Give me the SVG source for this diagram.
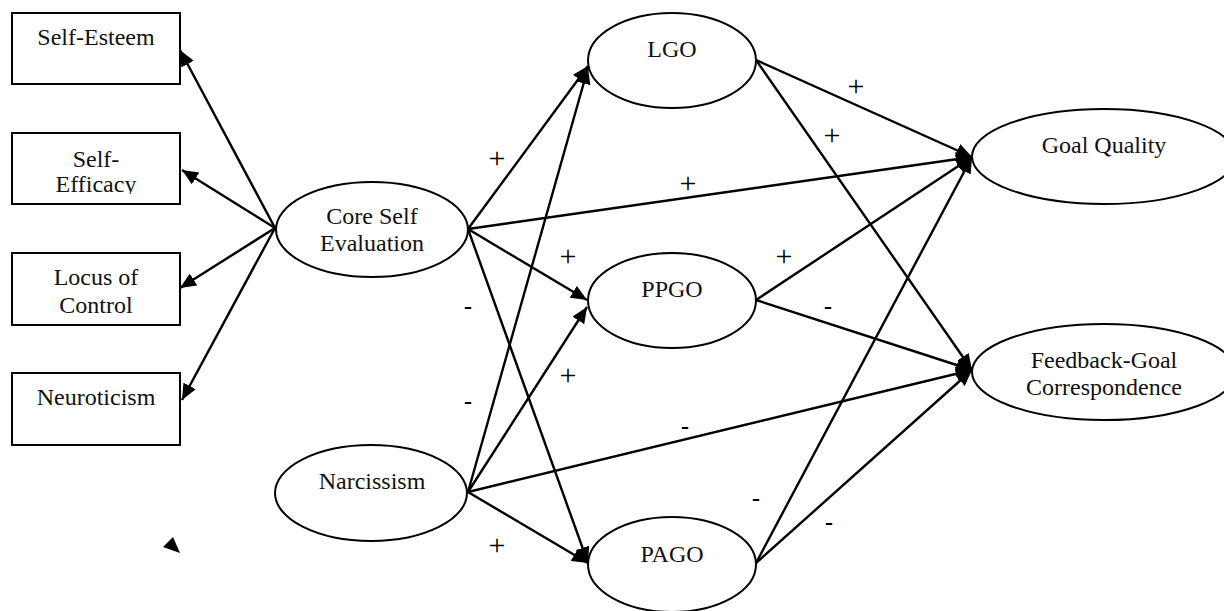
<svg xmlns="http://www.w3.org/2000/svg" width="1224" height="611" viewBox="0 0 1224 611">
<style>
.box{fill:#fff;stroke:#000;stroke-width:2}
.node{fill:#fff;stroke:#000;stroke-width:2}
.t{font-family:"Liberation Serif","Times New Roman",serif;font-size:24px;fill:#111;text-anchor:middle}
.p{font-family:"Liberation Serif","Times New Roman",serif;font-size:30px;fill:#000;text-anchor:middle}
.m{font-family:"Liberation Serif","Times New Roman",serif;font-size:24px;font-weight:bold;fill:#000;text-anchor:middle}
.e{stroke:#000;stroke-width:2.4;fill:none;marker-end:url(#ah)}
</style>
<defs>
<marker id="ah" markerUnits="userSpaceOnUse" markerWidth="17" markerHeight="14" refX="16" refY="7" orient="auto">
<path d="M0,0 L16,7 L0,14 z" fill="#000"/>
</marker>
<clipPath id="effclip"><rect x="12" y="133" width="168" height="61"/></clipPath>
</defs>
<g id="connectors">
<line class="e" x1="275" y1="228" x2="180" y2="50"/>
<line class="e" x1="275" y1="228" x2="182" y2="170"/>
<line class="e" x1="275" y1="228" x2="180" y2="288"/>
<line class="e" x1="275" y1="228" x2="182" y2="400"/>
<line class="e" x1="468" y1="229" x2="588" y2="66"/>
<line class="e" x1="468" y1="229" x2="972" y2="157"/>
<line class="e" x1="468" y1="229" x2="587" y2="300"/>
<line class="e" x1="468" y1="229" x2="588" y2="563"/>
<line class="e" x1="468" y1="492" x2="588" y2="68"/>
<line class="e" x1="468" y1="492" x2="587" y2="307"/>
<line class="e" x1="468" y1="492" x2="972" y2="370"/>
<line class="e" x1="468" y1="492" x2="588" y2="563"/>
<line class="e" x1="756" y1="60" x2="972" y2="157"/>
<line class="e" x1="756" y1="60" x2="972" y2="370"/>
<line class="e" x1="756" y1="300" x2="972" y2="157"/>
<line class="e" x1="756" y1="300" x2="972" y2="370"/>
<line class="e" x1="756" y1="563" x2="972" y2="157"/>
<line class="e" x1="756" y1="563" x2="972" y2="370"/>
<path d="M173,537 L163,547 L180,553 z" fill="#000"/>
</g>
<g id="labels">
<text class="p" x="497" y="168">+</text>
<text class="p" x="688" y="193">+</text>
<text class="p" x="856" y="96">+</text>
<text class="p" x="832" y="145">+</text>
<text class="p" x="784" y="266">+</text>
<text class="m" x="828" y="314">-</text>
<text class="p" x="568" y="266">+</text>
<text class="m" x="468" y="314">-</text>
<text class="p" x="568" y="385">+</text>
<text class="m" x="468" y="409">-</text>
<text class="m" x="685" y="434">-</text>
<text class="p" x="497" y="555">+</text>
<text class="m" x="756" y="506">-</text>
<text class="m" x="829" y="530">-</text>
</g>
<g id="self-esteem"><rect class="box" x="12" y="13" width="168" height="71"/><text class="t" x="96" y="45">Self-Esteem</text></g>
<g id="self-efficacy"><rect class="box" x="12" y="133" width="168" height="71"/><g clip-path="url(#effclip)"><text class="t" x="96" y="167">Self-</text><text class="t" x="96" y="192">Efficacy</text></g></g>
<g id="locus-of-control"><rect class="box" x="12" y="253" width="168" height="72"/><text class="t" x="96" y="285">Locus of</text><text class="t" x="96" y="313">Control</text></g>
<g id="neuroticism"><rect class="box" x="12" y="373" width="168" height="72"/><text class="t" x="96" y="405">Neuroticism</text></g>
<g id="core-self-evaluation"><ellipse class="node" cx="372" cy="229.5" rx="96" ry="47.5"/><text class="t" x="372" y="224">Core Self</text><text class="t" x="372" y="251">Evaluation</text></g>
<g id="narcissism"><ellipse class="node" cx="371" cy="493" rx="96" ry="48"/><text class="t" x="372" y="489">Narcissism</text></g>
<g id="lgo"><ellipse class="node" cx="672" cy="60.5" rx="84" ry="47.5"/><text class="t" x="672" y="57">LGO</text></g>
<g id="ppgo"><ellipse class="node" cx="672" cy="300.5" rx="84" ry="47.5"/><text class="t" x="672" y="297">PPGO</text></g>
<g id="pago"><ellipse class="node" cx="672" cy="564.5" rx="84" ry="47.5"/><text class="t" x="672" y="562">PAGO</text></g>
<g id="goal-quality"><ellipse class="node" cx="1104" cy="156.5" rx="132" ry="47.5"/><text class="t" x="1104" y="153">Goal Quality</text></g>
<g id="feedback-goal-correspondence"><ellipse class="node" cx="1104" cy="372" rx="132" ry="48"/><text class="t" x="1104" y="368">Feedback-Goal</text><text class="t" x="1104" y="395">Correspondence</text></g>
</svg>
